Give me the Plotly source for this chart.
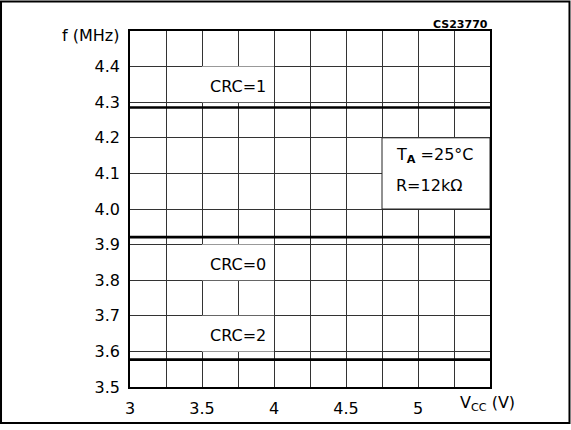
import plotly.graph_objects as go

# ---- data ----
vcc = [3.0, 3.5, 4.0, 4.5, 5.0, 5.5]
f_crc1 = [4.285, 4.285, 4.285, 4.285, 4.285, 4.285]
f_crc0 = [3.921, 3.921, 3.921, 3.921, 3.921, 3.921]
f_crc2 = [3.577, 3.577, 3.577, 3.577, 3.577, 3.577]
series_names = ["CRC=1", "CRC=0", "CRC=2"]
label_y = [4.345, 3.845, 3.645]

x_tickvals = [3.0, 3.5, 4.0, 4.5, 5.0]
x_ticktext = ["3", "3.5", "4", "4.5", "5"]
y_tickvals = [3.5, 3.6, 3.7, 3.8, 3.9, 4.0, 4.1, 4.2, 4.3, 4.4]
y_ticktext = ["3.5", "3.6", "3.7", "3.8", "3.9", "4.0", "4.1", "4.2", "4.3", "4.4"]

FONT = "DejaVu Sans"
GRID = "#333"

fig = go.Figure()
for ys in (f_crc1, f_crc0, f_crc2):
    fig.add_trace(go.Scatter(x=vcc, y=ys, mode="lines",
                             line=dict(color="black", width=2.6),
                             showlegend=False, hoverinfo="skip"))

shapes = []
# white label cells
for (y0, y1) in [(4.3, 4.4), (3.8, 3.9), (3.6, 3.7)]:
    shapes.append(dict(type="rect", xref="x", yref="y", x0=3.5, x1=4.0, y0=y0, y1=y1,
                       fillcolor="white", line=dict(width=0), layer="between"))
# conditions box
shapes.append(dict(type="rect", xref="x", yref="y", x0=4.75, x1=5.5, y0=4.0, y1=4.2,
                   fillcolor="white", line=dict(color="#222", width=1), layer="between"))
# outer border
shapes.append(dict(type="rect", xref="paper", yref="paper",
                   x0=-0.3583, x1=1.2208, y0=-0.1011, y1=1.0831,
                   line=dict(color="black", width=2), fillcolor="rgba(0,0,0,0)"))

annotations = []
for name, ly in zip(series_names, label_y):
    annotations.append(dict(x=3.75, y=ly, xref="x", yref="y", text=name, showarrow=False,
                            xanchor="center", yanchor="middle",
                            font=dict(family=FONT, size=16, color="black")))
annotations.append(dict(x=4.83, y=4.15, xref="x", yref="y", xanchor="left", yanchor="middle",
                        text="T<sub><b>A</b></sub> =25°C", showarrow=False,
                        font=dict(family=FONT, size=16, color="black")))
annotations.append(dict(x=4.83, y=4.067, xref="x", yref="y", xanchor="left", yanchor="middle",
                        text="R=12kΩ", showarrow=False,
                        font=dict(family=FONT, size=16, color="black")))
annotations.append(dict(x=-0.025, y=0.988, xref="paper", yref="paper", xanchor="right",
                        yanchor="middle", text="f (MHz)", showarrow=False,
                        font=dict(family=FONT, size=16, color="black")))
annotations.append(dict(x=0.994, y=-0.047, xref="paper", yref="paper", xanchor="center",
                        yanchor="middle", text="V<sub>CC</sub> (V)", showarrow=False,
                        font=dict(family=FONT, size=16, color="black")))
annotations.append(dict(x=1.0, y=1.019, xref="paper", yref="paper", xanchor="right",
                        yanchor="middle", text="<b>CS23770</b>", showarrow=False,
                        font=dict(family=FONT, size=11, color="black")))

fig.update_layout(
    autosize=False,
    width=571, height=430,
    margin=dict(l=130, r=81, t=31, b=38),
    paper_bgcolor="white", plot_bgcolor="white",
    shapes=shapes, annotations=annotations,
    font=dict(family=FONT, size=16, color="black"),
    xaxis=dict(range=[3, 5.5], tickmode="array", tickvals=x_tickvals, ticktext=x_ticktext,
               showgrid=True, gridcolor=GRID, gridwidth=1, zeroline=False,
               minor=dict(dtick=0.25, tick0=3, showgrid=True, gridcolor=GRID, gridwidth=1),
               showline=True, linecolor="black", linewidth=1.5, mirror=True,
               ticks="", ticklabelstandoff=6, tickfont=dict(family=FONT, size=16)),
    yaxis=dict(range=[3.5, 4.5], tickmode="array", tickvals=y_tickvals, ticktext=y_ticktext,
               showgrid=True, gridcolor=GRID, gridwidth=1, zeroline=False,
               showline=True, linecolor="black", linewidth=1.5, mirror=True,
               ticks="", ticklabelstandoff=5, tickfont=dict(family=FONT, size=16)),
)

fig.write_html("out.html",
               config={"displayModeBar": False, "responsive": False},
               post_script="document.body.style.margin='0px';document.body.style.overflow='hidden';")
